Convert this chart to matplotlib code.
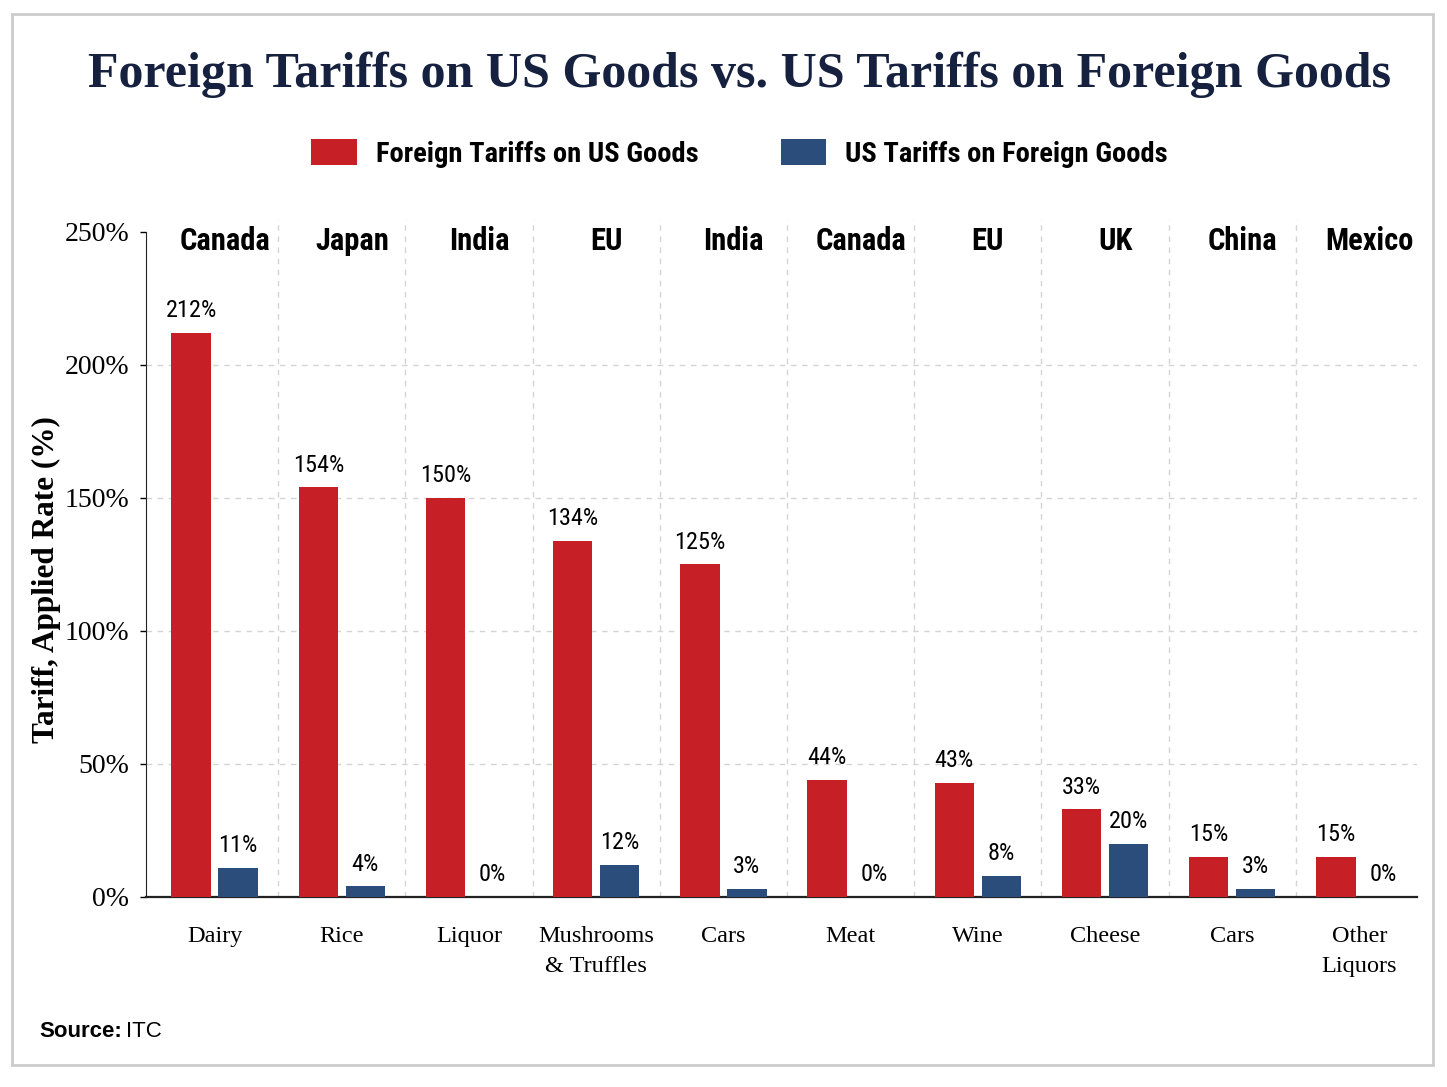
import matplotlib
matplotlib.use('Agg')
import matplotlib.pyplot as plt
from matplotlib.patches import Rectangle

countries = ["Canada", "Japan", "India", "EU", "India", "Canada", "EU", "UK", "China", "Mexico"]
products = ["Dairy", "Rice", "Liquor", "Mushrooms\n& Truffles", "Cars", "Meat", "Wine", "Cheese", "Cars", "Other\nLiquors"]
foreign_tariffs = [212, 154, 150, 134, 125, 44, 43, 33, 15, 15]
us_tariffs = [11, 4, 0, 12, 3, 0, 8, 20, 3, 0]
yticks = [0, 50, 100, 150, 200, 250]

RED = "#c62026"
BLUE = "#2b4d7c"
NAVY = "#16213f"
SERIF = ["Liberation Serif", "DejaVu Serif"]
NARROW = ["Liberation Sans Narrow", "Roboto Condensed", "DejaVu Sans"]
SANS = ["Liberation Sans", "DejaVu Sans"]

fig = plt.figure(figsize=(14.47, 10.87), dpi=100)
ax = fig.add_axes([0.1009, 0.1748, 0.979 - 0.1009, 0.7866 - 0.1748])

x = list(range(len(products)))
w = 0.31
off = 0.185
red_bars = ax.bar([i - off for i in x], foreign_tariffs, w, color=RED, label="Foreign Tariffs on US Goods", zorder=3)
blue_bars = ax.bar([i + off for i in x], us_tariffs, w, color=BLUE, label="US Tariffs on Foreign Goods", zorder=3)

for i in x:
    ax.text(i - off, foreign_tariffs[i] + 4, f"{foreign_tariffs[i]}%", ha="center", va="bottom",
            fontsize=17.5, family=NARROW, fontstretch="condensed")
    ax.text(i + off, us_tariffs[i] + 4, f"{us_tariffs[i]}%", ha="center", va="bottom",
            fontsize=17.5, family=NARROW, fontstretch="condensed")
    ax.text(i + 0.08, 246.5, countries[i], ha="center", va="center", fontsize=22,
            fontweight="bold", family=NARROW, fontstretch="condensed")

# dashed separators between groups and horizontal grid
for i in x[:-1]:
    ax.plot([i + 0.5, i + 0.5], [0, 255], ls=(0, (4, 4)), color="#d4d4d4", lw=1, zorder=1, clip_on=False)
for yv in yticks[1:-1]:
    ax.axhline(yv, ls=(0, (4, 4)), color="#d4d4d4", lw=1, zorder=1)

ax.set_xlim(-0.54, 9.45)
ax.set_ylim(0, 250)
ax.set_yticks(yticks)
ax.set_yticklabels([f"{v}%" for v in yticks], family=SERIF, fontsize=20)
ax.set_xticks(x)
ax.set_xticklabels(products, family=SERIF, fontsize=17.5, linespacing=1.55)
ax.tick_params(axis="x", length=0, pad=21)
ax.tick_params(axis="y", length=4, pad=8, width=1)

for s in ["top", "right"]:
    ax.spines[s].set_visible(False)
ax.spines["left"].set_color("#222222")
ax.spines["bottom"].set_color("#222222")
ax.spines["bottom"].set_linewidth(1.6)

ax.set_ylabel("Tariff, Applied Rate (%)", family=SERIF, fontsize=22.5, fontweight="bold")
ax.yaxis.set_label_coords(-0.067, 0.477)

fig.text(0.511, 0.931, "Foreign Tariffs on US Goods vs. US Tariffs on Foreign Goods", ha="center",
         va="center", fontsize=36, fontweight="bold", family=SERIF, color=NAVY)

fig.legend(handles=[red_bars, blue_bars], loc="center", bbox_to_anchor=(0.511, 0.859), ncol=2,
           frameon=False, prop={"family": NARROW, "size": 20.5, "weight": "bold", "stretch": "condensed"},
           handlelength=1.6, handleheight=1.05, handletextpad=0.65, columnspacing=2.9)

fig.text(0.027, 0.051, "Source:", fontsize=16, fontweight="bold", family=SANS, va="center")
fig.text(0.087, 0.051, "ITC", fontsize=16, family=SANS, va="center")

fig.patches.append(Rectangle((0.0085, 0.02), 0.982, 0.967, transform=fig.transFigure,
                             fill=False, edgecolor="#cccccc", lw=2))

fig.savefig("out.png", dpi=100)
